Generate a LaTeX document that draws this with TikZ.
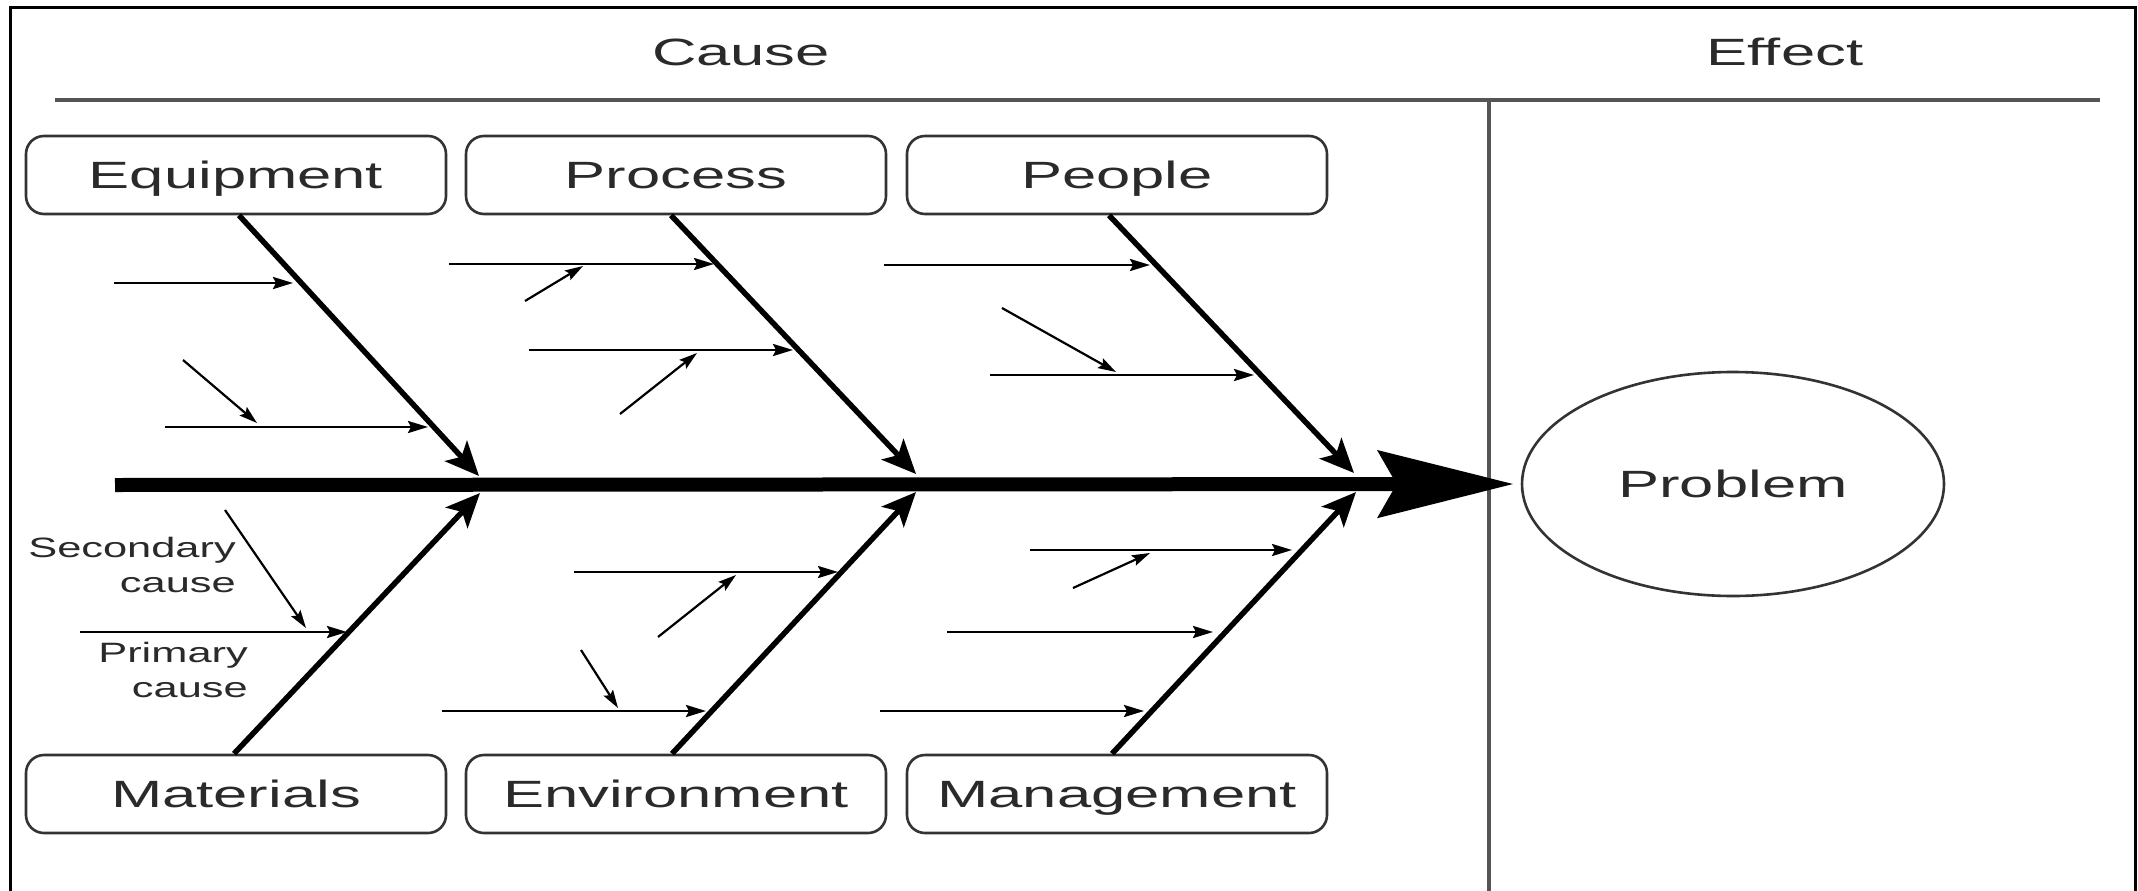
\documentclass[tikz,border=0pt]{standalone}
\usepackage{graphicx}
\usepackage{fontspec}
\setmainfont{Liberation Sans}
\usetikzlibrary{arrows.meta,shapes.geometric,calc}
\newcommand{\stretchx}[2][1.62]{\scalebox{#1}[1]{#2}}
\definecolor{txt}{HTML}{2A2A2A}
\definecolor{boxc}{HTML}{333333}
\definecolor{rulec}{HTML}{555555}
\begin{document}
\begin{tikzpicture}[x=1pt,y=-1pt,
  cat/.style={draw=boxc, line width=2.6pt, rounded corners=18pt, minimum width=420pt, minimum height=78pt, inner sep=0pt, text height=27pt, text depth=0pt, font=\fontsize{38}{46}\selectfont, text=txt},
  head/.style={inner sep=0pt, text height=27pt, text depth=0pt, font=\fontsize{38}{46}\selectfont, text=txt},
  lbl/.style={inner sep=0pt, font=\fontsize{28}{35}\selectfont, text=txt},
  frame/.style={draw=black, line width=3pt},
  rulel/.style={draw=rulec, line width=3.2pt},
  spine/.style={line width=14pt, -{Stealth[length=135pt,width=66pt,inset=18pt]}},
  bone/.style={line width=5.5pt, -{Stealth[length=34pt,width=30pt,inset=8pt]}},
  prim/.style={line width=2.6pt, -{Stealth[length=20pt,width=12pt,inset=3pt]}},
  sec/.style={line width=2.2pt, -{Stealth[length=18pt,width=11pt,inset=3pt]}}
]
\useasboundingbox (0,0) rectangle (2138,891);
\fill[white] (0,0) rectangle (2138,891);
% frame
\coordinate (f1) at (10,891); \coordinate (f2) at (10,8);
\coordinate (f3) at (2135,8); \coordinate (f4) at (2135,891);
\draw[frame] (f1) -- (f2) -- (f3) -- (f4);
% header
\node[head] (cause) at (741,52) {\stretchx{Cause}};
\node[head] (effect) at (1785,52) {\stretchx{Effect}};
\coordinate (hl) at (55,100); \coordinate (hr) at (2100,100);
\draw[rulel] (hl) -- (hr);
\coordinate (vt) at (1489,100); \coordinate (vb) at (1489,891);
\draw[rulel] (vt) -- (vb);
% category boxes
\node[cat] (equip) at (236,175) {\stretchx{Equipment}};
\node[cat] (proc)  at (676,175) {\stretchx{Process}};
\node[cat] (peop)  at (1117,175) {\stretchx{People}};
\node[cat] (mat)   at (236,794) {\stretchx{Materials}};
\node[cat] (env)   at (676,794) {\stretchx{Environment}};
\node[cat] (man)   at (1117,794) {\stretchx{Management}};
% problem
\node[ellipse, draw=boxc, line width=2.6pt, minimum width=422pt, minimum height=224pt, inner sep=0pt, text height=27pt, text depth=0pt, font=\fontsize{38}{46}\selectfont, text=txt] (prob) at (1733,484) {\stretchx{Problem}};
% spine
\coordinate (s0) at (115,485);
\draw[spine] (s0) -- ([xshift=-7pt]prob.west);
% bone tips
\coordinate (tE) at (479,476); \coordinate (tP) at (916,474); \coordinate (tPe) at (1354,473);
\coordinate (tM) at (480,493); \coordinate (tEn) at (916,492); \coordinate (tMa) at (1356,492);
\draw[bone] ($(equip.south)+(3,0)$) -- (tE);
\draw[bone] ($(proc.south)+(-5,0)$) -- (tP);
\draw[bone] ($(peop.south)+(-8,0)$) -- (tPe);
\draw[bone] ($(mat.north)+(-2,0)$) -- (tM);
\draw[bone] ($(env.north)+(-4,0)$) -- (tEn);
\draw[bone] ($(man.north)+(-5,0)$) -- (tMa);
% Equipment causes
\coordinate (e1a) at (114,283); \coordinate (e1b) at (293,283);
\draw[prim] (e1a) -- (e1b);
\coordinate (e2a) at (165,427); \coordinate (e2b) at (428,427);
\draw[prim] (e2a) -- (e2b);
\coordinate (e3a) at (183,360); \coordinate (e3b) at (257,423);
\draw[sec] (e3a) -- (e3b);
% Process causes
\coordinate (p1a) at (449,264); \coordinate (p1b) at (714,264);
\draw[prim] (p1a) -- (p1b);
\coordinate (p2a) at (525,301); \coordinate (p2b) at (583,266);
\draw[sec] (p2a) -- (p2b);
\coordinate (p3a) at (529,350); \coordinate (p3b) at (793,350);
\draw[prim] (p3a) -- (p3b);
\coordinate (p4a) at (620,414); \coordinate (p4b) at (697,353);
\draw[sec] (p4a) -- (p4b);
% People causes
\coordinate (q1a) at (884,265); \coordinate (q1b) at (1150,265);
\draw[prim] (q1a) -- (q1b);
\coordinate (q2a) at (1002,308); \coordinate (q2b) at (1116,372);
\draw[sec] (q2a) -- (q2b);
\coordinate (q3a) at (990,375); \coordinate (q3b) at (1254,375);
\draw[prim] (q3a) -- (q3b);
% Materials causes
\coordinate (m1a) at (80,632); \coordinate (m1b) at (347,632);
\draw[prim] (m1a) -- (m1b);
\coordinate (m2a) at (225,510); \coordinate (m2b) at (306,628);
\draw[sec] (m2a) -- (m2b);
% Environment causes
\coordinate (n1a) at (574,572); \coordinate (n1b) at (838,572);
\draw[prim] (n1a) -- (n1b);
\coordinate (n2a) at (658,637); \coordinate (n2b) at (736,575);
\draw[sec] (n2a) -- (n2b);
\coordinate (n3a) at (581,650); \coordinate (n3b) at (618,708);
\draw[sec] (n3a) -- (n3b);
\coordinate (n4a) at (442,711); \coordinate (n4b) at (706,711);
\draw[prim] (n4a) -- (n4b);
% Management causes
\coordinate (g1a) at (1030,550); \coordinate (g1b) at (1292,550);
\draw[prim] (g1a) -- (g1b);
\coordinate (g2a) at (1073,588); \coordinate (g2b) at (1150,553);
\draw[sec] (g2a) -- (g2b);
\coordinate (g3a) at (947,632); \coordinate (g3b) at (1213,632);
\draw[prim] (g3a) -- (g3b);
\coordinate (g4a) at (880,711); \coordinate (g4b) at (1144,711);
\draw[prim] (g4a) -- (g4b);
% legend labels
\node[lbl, anchor=east] (seclbl) at (236,568) {\stretchx[1.55]{\begin{tabular}{@{}r@{}}Secondary\\cause\end{tabular}}};
\node[lbl, anchor=east] (primlbl) at (248,673) {\stretchx[1.55]{\begin{tabular}{@{}r@{}}Primary\\cause\end{tabular}}};
\end{tikzpicture}
\end{document}
